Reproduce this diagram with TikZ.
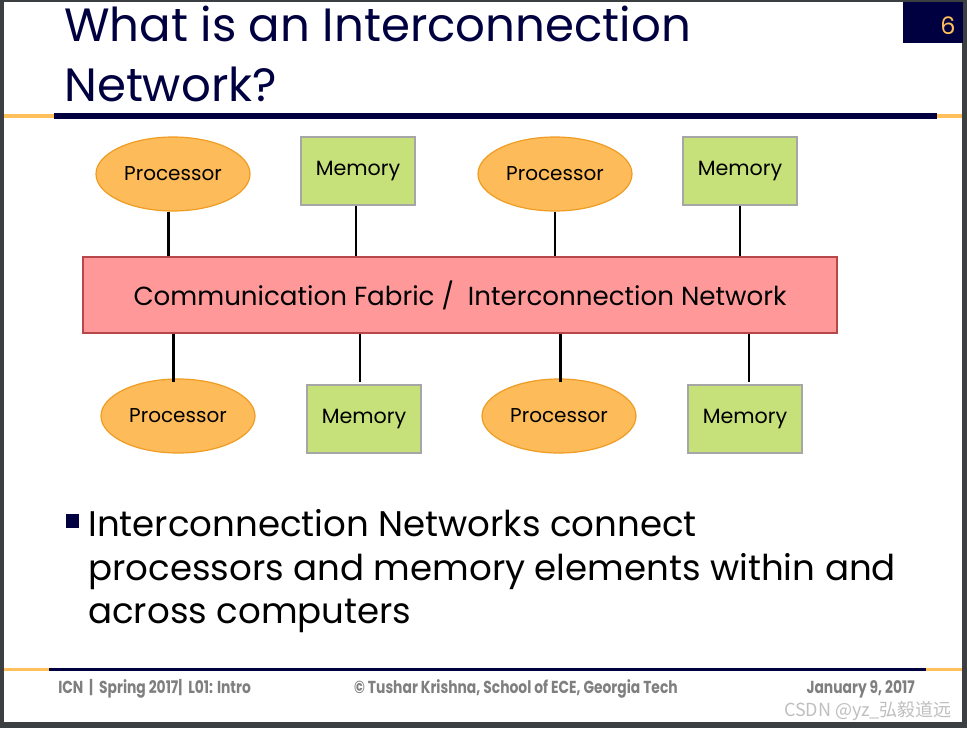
\documentclass[tikz,border=0pt]{standalone}
\usepackage{fontspec}
\usetikzlibrary{shapes.geometric}
\setmainfont{Poppins}
\newfontfamily\footfont[FakeStretch=0.8]{Poppins}
\newfontfamily\cjkfont{Noto Sans CJK SC}
\definecolor{slidenavy}{HTML}{000040}
\definecolor{slideorange}{HTML}{FFC05C}
\definecolor{framegray}{HTML}{3C3F41}
\definecolor{procfill}{HTML}{FDBB59}
\definecolor{procline}{HTML}{EE9C22}
\definecolor{memfill}{HTML}{C6E07A}
\definecolor{memline}{HTML}{A6A6A6}
\definecolor{fabfill}{HTML}{FF9999}
\definecolor{fabline}{HTML}{B8474A}
\definecolor{foottext}{HTML}{7F7F7F}
\begin{document}
\begin{tikzpicture}[x=0.75pt,y=-0.75pt,
  proc/.style={ellipse,draw=procline,fill=procfill,line width=0.9pt,inner sep=0pt,
    minimum width=115.5pt,minimum height=55.5pt,font=\fontsize{15}{18}\selectfont},
  mem/.style={rectangle,draw=memline,fill=memfill,line width=0.9pt,inner sep=0pt,
    minimum width=85.5pt,minimum height=51pt,font=\fontsize{15.5}{18}\selectfont},
  link/.style={line width=2pt},
  titleline/.style={anchor=base west,inner sep=0pt,text=slidenavy,font=\fontsize{35}{40}\selectfont},
  bodyline/.style={anchor=base west,inner sep=0pt,font=\fontsize{26.7}{30}\selectfont},
  footline/.style={inner sep=0pt,text=foottext,font=\footfont\bfseries\fontsize{13}{15}\selectfont}]
\useasboundingbox (0,0) rectangle (967,728);
% slide frame
\fill[framegray] (0,0) rectangle (967,728);
\fill[white] (4,2) rectangle (962,722);
\fill[slidenavy] (903,2) rectangle (963,43);
\node[anchor=base,text=slideorange,font=\fontsize{18}{20}\selectfont] (pnum) at (948,34) {6};
% title
\node[titleline] (title1) at (64,41) {What is an Interconnection};
\node[titleline] (title2) at (64,101) {Network?};
\fill[slideorange] (4,113.5) rectangle (962,118);
\fill[slidenavy] (54,112.5) rectangle (937,119);
% components
\node[proc] (p1) at (173,174) {Processor};
\node[mem]  (m1) at (358,171) {Memory};
\node[proc] (p2) at (555,174) {Processor};
\node[mem]  (m2) at (740,171) {Memory};
\node[rectangle,draw=fabline,fill=fabfill,line width=0.9pt,minimum width=565.5pt,
  minimum height=57pt,font=\fontsize{19.6}{24}\selectfont] (fab) at (460,295)
  {Communication Fabric /\ \ Interconnection Network};
\node[proc] (p3) at (178,416) {Processor};
\node[mem]  (m3) at (364,419) {Memory};
\node[proc] (p4) at (559,416) {Processor};
\node[mem]  (m4) at (745,419) {Memory};
\draw[link] ([xshift=-3.5pt]p1.south) -- ([xshift=-3.5pt]p1.south |- fab.north);
\draw[link] ([xshift=-1.5pt]m1.south) -- ([xshift=-1.5pt]m1.south |- fab.north);
\draw[link] (p2.south) -- (p2.south |- fab.north);
\draw[link] (m2.south) -- (m2.south |- fab.north);
\draw[link] ([xshift=-3.5pt]p3.north |- fab.south) -- ([xshift=-3.5pt,yshift=-3pt]p3.north);
\draw[link] ([xshift=-3pt]m3.north |- fab.south) -- ([xshift=-3pt,yshift=1.5pt]m3.north);
\draw[link] ([xshift=1pt]p4.north |- fab.south) -- ([xshift=1pt,yshift=-3pt]p4.north);
\draw[link] ([xshift=3pt]m4.north |- fab.south) -- ([xshift=3pt,yshift=1.5pt]m4.north);
% bullet
\fill[slidenavy] (66,514) rectangle (79,528);
\node[bodyline] (body1) at (88,536) {Interconnection Networks connect};
\node[bodyline] (body2) at (88,580) {processors and memory elements within and};
\node[bodyline] (body3) at (88,623) {across computers};
% footer
\fill[slideorange] (4,668) rectangle (962,671);
\fill[slidenavy] (49,667.5) rectangle (926,671);
\node[footline,anchor=base west] (fleft) at (58,693) {ICN\ \ |\ \ Spring 2017|\ \ L01: Intro};
\node[footline,anchor=base] (fmid) at (516,693) {\textcopyright\ Tushar Krishna, School of ECE, Georgia Tech};
\node[footline,anchor=base east] (fright) at (915,693) {January 9, 2017};
\node[anchor=base east,inner sep=0pt,text=black!25,font=\cjkfont\fontsize{13.5}{15}\selectfont]
  (mark) at (952,716) {CSDN @yz\_弘毅道远};
\end{tikzpicture}
\end{document}
